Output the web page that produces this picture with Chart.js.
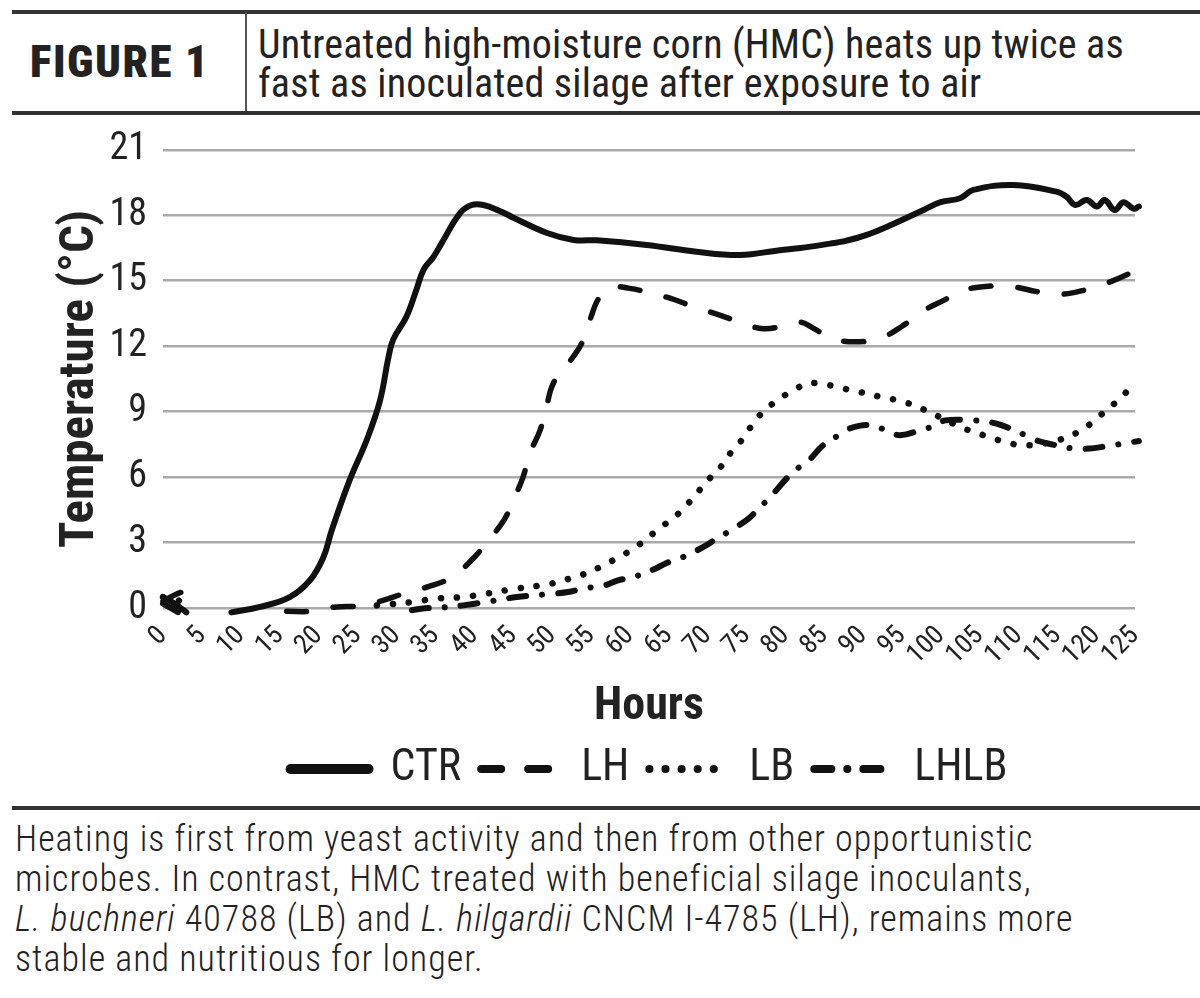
<!DOCTYPE html>
<html>
<head>
<meta charset="utf-8">
<script src="https://cdn.jsdelivr.net/npm/chart.js@4.4.1/dist/chart.umd.min.js"></script>
<style>
  body { margin: 0; background: #fff; width: 1200px; height: 998px; position: relative; overflow: hidden; }
  .rule { position: absolute; background: #333; }
  #figLabel { position: absolute; left: 30px; top: 35px; font: 900 45px 'Roboto Condensed', 'Roboto', sans-serif; color: #222; letter-spacing: 1.5px; }
  #title { position: absolute; left: 258px; top: 25px; font: 40px 'Roboto Condensed', 'Roboto', sans-serif; line-height: 39px; letter-spacing: 0.2px; color: #222; white-space: nowrap; }
  #caption { position: absolute; left: 15px; top: 819px; font: 300 36px 'Roboto Condensed', 'Roboto', sans-serif; line-height: 40px; letter-spacing: 1px; color: #222; white-space: nowrap; }
  #wrap { position: absolute; left: 0; top: 111px; width: 1200px; height: 690px; }
</style>
</head>
<body>
<div class="rule" style="left:12px; top:10px; width:1188px; height:4px;"></div>
<div class="rule" style="left:245px; top:12px; width:2px; height:100px; background:#555;"></div>
<div class="rule" style="left:12px; top:111px; width:1188px; height:4px;"></div>
<div id="figLabel">FIGURE 1</div>
<div id="title">Untreated high-moisture corn (HMC) heats up twice as<br>fast as inoculated silage after exposure to air</div>
<div id="wrap"><canvas id="chart" width="1200" height="690"></canvas></div>
<div class="rule" style="left:12px; top:806px; width:1188px; height:4px;"></div>
<div id="caption">Heating is first from yeast activity and then from other opportunistic<br>microbes. In contrast, HMC treated with beneficial silage inoculants,<br><i>L. buchneri</i> 40788 (LB) and <i>L. hilgardii</i> CNCM I-4785 (LH), remains more<br>stable and nutritious for longer.</div>

<script>
// data (jam, suhu °C); null = data kosong
const seriesNames = ['CTR', 'LH', 'LB', 'LHLB'];

const ctrHours = [0, 1.5, 3, 6, 8.8, 12.5, 16.3, 18.9, 20.6, 21.7, 24, 26.2, 27.9, 29, 29.6, 31.3, 32.6, 33.5, 34.8, 35.8, 38.2, 39.7, 41.2, 43.3, 45, 49.3, 52.8, 55.8, 62.2, 68.6, 74.2, 79.3, 82, 85.8, 87.5, 90.5, 93.9, 97.8, 100, 102.5, 104.2, 109.4, 114.9, 116.2, 117.3, 118.8, 120.1, 121.1, 122.4, 123.5, 124.8, 125.5];
const ctrTemps = [0.5, 0.2, -0.2, null, -0.2, 0.05, 0.5, 1.27, 2.3, 3.56, 5.86, 7.7, 9.5, 11.5, 12.3, 13.35, 14.6, 15.5, 16.1, 16.7, 18.1, 18.47, 18.47, 18.2, 17.9, 17.2, 16.87, 16.85, 16.64, 16.33, 16.18, 16.4, 16.5, 16.7, 16.8, 17.1, 17.6, 18.24, 18.6, 18.78, 19.16, 19.39, 19.08, 18.85, 18.47, 18.7, 18.4, 18.7, 18.24, 18.6, 18.3, 18.4];

const lhHours = [0, 1.5, 3, 9, 15.9, 19, 22.3, 25.8, 28.3, 31.3, 34.3, 37.1, 39.7, 41.6, 43.8, 45, 46.3, 47.2, 48.5, 49.3, 50.2, 52.1, 53.8, 54.9, 56.2, 58, 60, 62, 65.2, 68, 71.2, 74.2, 77.2, 80.2, 82, 83.5, 86, 89, 92.2, 95, 97.6, 100.4, 103.1, 106.1, 109.4, 112.4, 115.8, 118.8, 121.8, 124.1, 125];
const lhTemps = [0.3, 0.6, 0.8, null, -0.15, -0.15, 0.05, 0.1, 0.35, 0.7, 1.0, 1.4, 2.2, 3.0, 4.0, 4.9, 6.0, 7.1, 8.15, 9.2, 10.3, 11.2, 12.1, 13.2, 14.27, 14.7, 14.65, 14.5, 14.2, 13.84, 13.47, 13.1, 12.8, 12.97, 13.1, 12.85, 12.36, 12.2, 12.36, 12.9, 13.58, 14.1, 14.57, 14.75, 14.72, 14.5, 14.39, 14.6, 14.95, 15.3, 15.5];

const lbHours = [0, 1.5, 3, 12, 27.5, 32.2, 35, 38.6, 41.6, 45.5, 50, 52.3, 54.5, 56.4, 58.3, 60.5, 62.2, 64.1, 65.8, 67.3, 68.8, 70.3, 71.8, 73.1, 74.6, 75.9, 77.4, 79.1, 81.1, 83.2, 85.4, 87.5, 89.6, 92, 94.3, 96.5, 98.4, 100.5, 102.5, 104.6, 106.8, 108.9, 111.3, 113.4, 115.8, 117.7, 119.6, 121.3, 123.1, 124.6, 125];
const lbTemps = [0.5, 0.4, 0.2, null, 0.12, 0.28, 0.43, 0.5, 0.66, 0.89, 1.12, 1.35, 1.6, 1.91, 2.27, 2.72, 3.18, 3.72, 4.17, 4.7, 5.32, 5.94, 6.5, 7.16, 7.77, 8.46, 9.07, 9.53, 9.99, 10.3, 10.23, 10.06, 9.9, 9.7, 9.53, 9.3, 9.0, 8.65, 8.3, 8.03, 7.77, 7.54, 7.46, 7.54, 7.77, 8.07, 8.53, 9.07, 9.6, 10.2, 10.4];

const lhlbHours = [0, 1.5, 3, 12, 32, 34, 37, 38.6, 41.6, 45.5, 50.2, 52.1, 54, 56.8, 58.5, 60.5, 63.3, 65, 66.9, 69.5, 71.2, 72.7, 75.3, 76.6, 78.1, 80.2, 81.3, 83, 84.9, 86.8, 88.3, 91.1, 93.1, 94.8, 97.4, 99.5, 100.6, 104.2, 106.1, 107.8, 110.9, 112.3, 113.8, 117, 119.2, 120.9, 124.1, 125.5];
const lhlbTemps = [0.2, -0.1, -0.4, null, -0.1, 0, 0.05, 0.12, 0.28, 0.5, 0.66, 0.73, 0.89, 1.04, 1.27, 1.42, 1.8, 2.1, 2.34, 2.8, 3.18, 3.49, 4.1, 4.56, 5.09, 5.94, 6.32, 6.75, 7.46, 7.9, 8.23, 8.38, 8.12, 7.92, 8.15, 8.38, 8.6, 8.6, 8.53, 8.38, 7.92, 7.69, 7.54, 7.31, 7.31, 7.39, 7.57, 7.65];

const yTicks = [0, 3, 6, 9, 12, 15, 18, 21];

const condensed = "'Roboto Condensed', 'Roboto', sans-serif";

function toPoints(hours, temps) {
  return hours.map((h, i) => ({ x: h, y: temps[i] }));
}

function makeDataset(label, hours, temps, width, dash) {
  return {
    label,
    data: toPoints(hours, temps),
    borderColor: '#111',
    backgroundColor: '#111',
    borderWidth: width,
    borderDash: dash,
    borderCapStyle: 'round',
    borderJoinStyle: 'round',
    pointRadius: 0,
    tension: 0.4,
    fill: false,
    clip: 20
  };
}

const ctx = document.getElementById('chart').getContext('2d');
new Chart(ctx, {
  type: 'line',
  data: {
    datasets: [
      makeDataset(seriesNames[0], ctrHours, ctrTemps, 6, []),
      makeDataset(seriesNames[1], lhHours, lhTemps, 5.5, [20, 27]),
      makeDataset(seriesNames[2], lbHours, lbTemps, 6.5, [0.1, 16]),
      makeDataset(seriesNames[3], lhlbHours, lhlbTemps, 6, [17, 16, 0.1, 16])
    ]
  },
  options: {
    responsive: false,
    animation: false,
    layout: { padding: { left: 0, right: 65, top: 0, bottom: 0 } },
    scales: {
      x: {
        type: 'linear',
        min: 0,
        max: 125,
        grid: { display: false },
        border: { display: false },
        ticks: {
          stepSize: 5,
          autoSkip: false,
          minRotation: 45,
          maxRotation: 45,
          padding: 4,
          color: '#222',
          font: { family: condensed, size: 27 }
        },
        title: {
          display: true,
          text: 'Hours',
          color: '#222',
          font: { family: condensed, size: 46, weight: 'bold' },
          padding: { top: 0, bottom: -8 }
        },
        afterFit: (scale) => { scale.height = 119; }
      },
      y: {
        min: 0,
        max: 21,
        afterBuildTicks: (scale) => { scale.ticks = yTicks.map(v => ({ value: v })); },
        grid: { color: '#aaaaaa', lineWidth: 2.5, drawTicks: false },
        border: { display: false },
        ticks: {
          padding: 16,
          color: '#222',
          font: { family: condensed, size: 38 }
        },
        title: {
          display: true,
          text: 'Temperature (°C)',
          color: '#222',
          font: { family: condensed, size: 49, weight: 'bold' },
          padding: { top: 51, bottom: 0 }
        },
        afterFit: (scale) => { scale.width = 163; }
      }
    },
    plugins: {
      tooltip: { enabled: false },
      legend: {
        position: 'bottom',
        fullSize: false,
        labels: {
          usePointStyle: true,
          pointStyle: 'line',
          pointStyleWidth: 78,
          padding: 20,
          color: '#222',
          font: { family: condensed, size: 44 },
          generateLabels: (chart) => {
            const items = Chart.defaults.plugins.legend.labels.generateLabels(chart);
            items.forEach(it => {
              const ds = chart.data.datasets[it.datasetIndex];
              it.lineWidth = it.text === 'CTR' ? 10 : 8;
              it.lineDash = ds.borderDash;
              it.lineCap = 'round';
            });
            return items;
          }
        }
      }
    }
  }
});
</script>
</body>
</html>
